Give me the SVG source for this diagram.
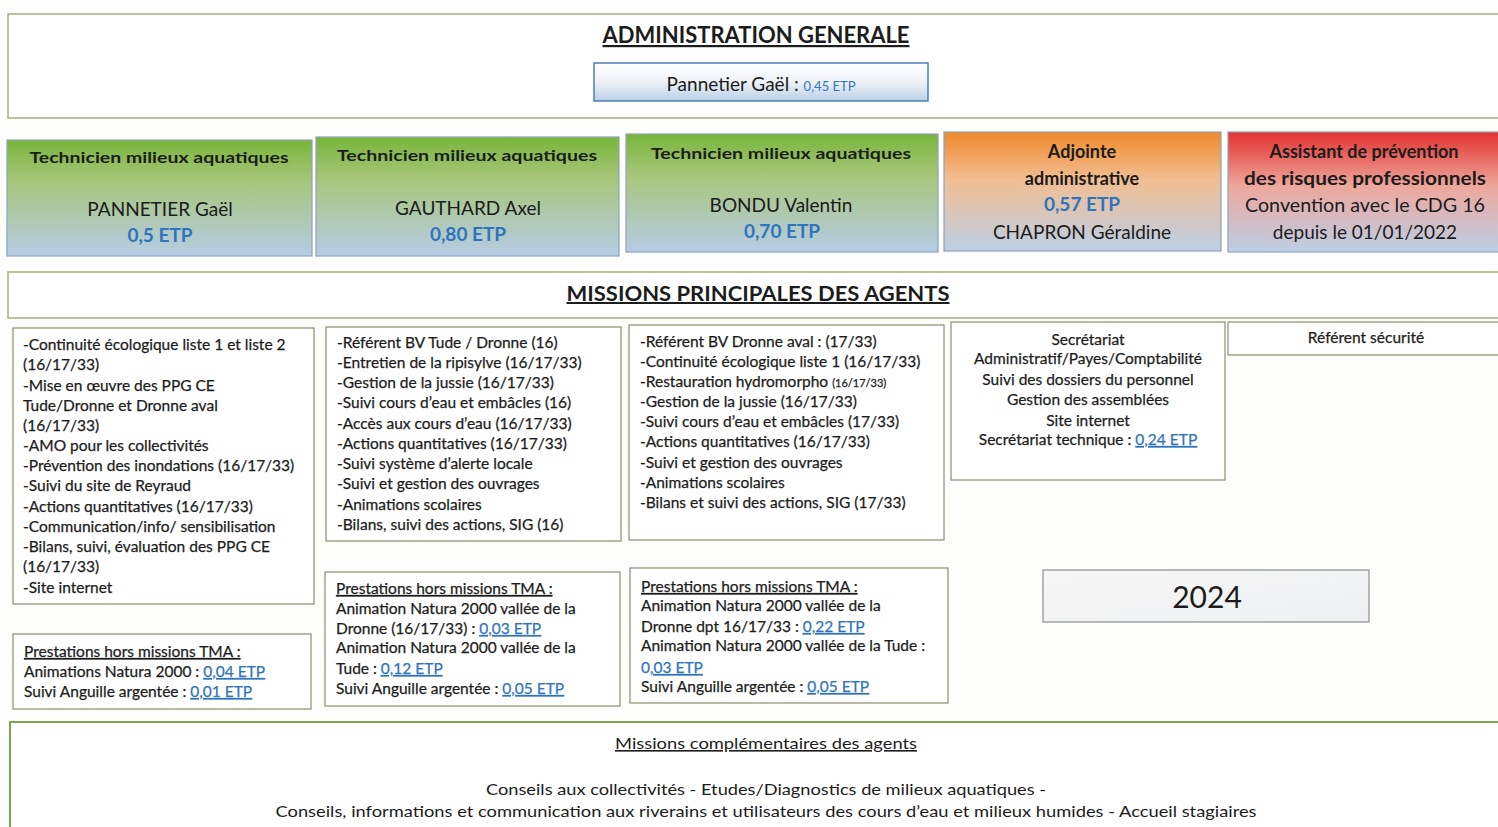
<svg xmlns="http://www.w3.org/2000/svg" width="1498" height="827" viewBox="0 0 1498 827">
<defs>
<linearGradient id="gGreen" x1="0" y1="0" x2="0" y2="1">
<stop offset="0" stop-color="#78b53a"/><stop offset="0.35" stop-color="#a7c67a"/><stop offset="1" stop-color="#b7cce6"/>
</linearGradient>
<linearGradient id="gOrange" x1="0" y1="0" x2="0" y2="1">
<stop offset="0" stop-color="#f0892a"/><stop offset="0.4" stop-color="#f2be92"/><stop offset="1" stop-color="#bccfe6"/>
</linearGradient>
<linearGradient id="gRed" x1="0" y1="0" x2="0" y2="1">
<stop offset="0" stop-color="#e3312f"/><stop offset="0.45" stop-color="#eea79c"/><stop offset="1" stop-color="#bccfe6"/>
</linearGradient>
<linearGradient id="gBlue" x1="0" y1="0" x2="0" y2="1">
<stop offset="0" stop-color="#ffffff"/><stop offset="0.5" stop-color="#eef2f7"/><stop offset="1" stop-color="#b9cfe6"/>
</linearGradient>
<linearGradient id="gGray" x1="0" y1="0" x2="1" y2="1">
<stop offset="0" stop-color="#f7f7f7"/><stop offset="1" stop-color="#eeeff1"/>
</linearGradient>
</defs>
<style>
.t{font-family:Lato,"Open Sans","Liberation Sans",sans-serif;fill:#1c1c1c}
.m{font-size:15.5px;stroke:#1c1c1c;stroke-width:0.25}
.c{text-anchor:middle}
.bd{font-weight:bold}
.bl{fill:#2f74bd}
.m .bl{stroke:#2f74bd}
.u{text-decoration:underline}
.frame{fill:#ffffff;stroke:#a9ae78;stroke-width:1.5}
.box{fill:#ffffff;stroke:#8c8e70;stroke-width:1.2}
.role{stroke:#8ea3ba;stroke-width:1.2}
</style>
<rect width="1498" height="827" fill="#fdfdfb"/>

<g id="admin">
<rect class="frame" x="8" y="14" width="1498" height="104"/>
<text class="t c bd u" x="756" y="43" font-size="22" textLength="307" lengthAdjust="spacingAndGlyphs">ADMINISTRATION GENERALE</text>
</g>
<g id="admin-person">
<rect x="594" y="63" width="334" height="38" fill="url(#gBlue)" stroke="#4d7db8" stroke-width="1.5"/>
<text class="t c" x="761" y="91" font-size="19">Pannetier Gaël : <tspan class="bl" font-size="13">0,45 ETP</tspan></text>
</g>

<g id="tech1">
<rect class="role" x="7" y="140" width="305" height="116" fill="url(#gGreen)"/>
<text class="t c bd" x="159" y="163" font-size="16" textLength="259" lengthAdjust="spacingAndGlyphs">Technicien milieux aquatiques</text>
<text class="t c" x="160" y="216" font-size="19">PANNETIER Gaël</text>
<text class="t c bd bl" x="160" y="242" font-size="19">0,5 ETP</text>
</g>
<g id="tech2">
<rect class="role" x="316" y="137" width="303" height="119" fill="url(#gGreen)"/>
<text class="t c bd" x="467" y="161" font-size="16" textLength="260" lengthAdjust="spacingAndGlyphs">Technicien milieux aquatiques</text>
<text class="t c" x="468" y="215" font-size="19">GAUTHARD Axel</text>
<text class="t c bd bl" x="468" y="241" font-size="19">0,80 ETP</text>
</g>
<g id="tech3">
<rect class="role" x="626" y="134" width="312" height="118" fill="url(#gGreen)"/>
<text class="t c bd" x="781" y="159" font-size="16" textLength="260" lengthAdjust="spacingAndGlyphs">Technicien milieux aquatiques</text>
<text class="t c" x="781" y="212" font-size="19">BONDU Valentin</text>
<text class="t c bd bl" x="782" y="238" font-size="19">0,70 ETP</text>
</g>
<g id="adjointe">
<rect class="role" x="944" y="132" width="277" height="119" fill="url(#gOrange)"/>
<text class="t c bd" x="1082" y="158" font-size="18">Adjointe</text>
<text class="t c bd" x="1082" y="185" font-size="18">administrative</text>
<text class="t c bd bl" x="1082" y="211" font-size="19">0,57 ETP</text>
<text class="t c" x="1082" y="239" font-size="19">CHAPRON Géraldine</text>
</g>
<g id="assistant">
<rect class="role" x="1228" y="132" width="275" height="120" fill="url(#gRed)"/>
<text class="t c bd" x="1364" y="158" font-size="18">Assistant de prévention</text>
<text class="t c bd" x="1365" y="185" font-size="18" textLength="242" lengthAdjust="spacingAndGlyphs">des risques professionnels</text>
<text class="t c" x="1365" y="212" font-size="19" textLength="240" lengthAdjust="spacingAndGlyphs">Convention avec le CDG 16</text>
<text class="t c" x="1365" y="239" font-size="19">depuis le 01/01/2022</text>
</g>

<g id="missions-header">
<rect class="frame" x="8" y="272" width="1498" height="46"/>
<text class="t c bd u" x="758" y="301" font-size="20" textLength="383" lengthAdjust="spacingAndGlyphs">MISSIONS PRINCIPALES DES AGENTS</text>
</g>

<g id="missions-pannetier">
<rect class="box" x="13" y="328" width="301" height="276"/>
<text class="t m" x="23" y="350">-Continuité écologique liste 1 et liste 2</text>
<text class="t m" x="23" y="370">(16/17/33)</text>
<text class="t m" x="23" y="391">-Mise en œuvre des PPG CE</text>
<text class="t m" x="23" y="411">Tude/Dronne et Dronne aval</text>
<text class="t m" x="23" y="431">(16/17/33)</text>
<text class="t m" x="23" y="451">-AMO pour les collectivités</text>
<text class="t m" x="23" y="471">-Prévention des inondations (16/17/33)</text>
<text class="t m" x="23" y="491">-Suivi du site de Reyraud</text>
<text class="t m" x="23" y="512">-Actions quantitatives (16/17/33)</text>
<text class="t m" x="23" y="532">-Communication/info/ sensibilisation</text>
<text class="t m" x="23" y="552">-Bilans, suivi, évaluation des PPG CE</text>
<text class="t m" x="23" y="572">(16/17/33)</text>
<text class="t m" x="23" y="593">-Site internet</text>
</g>
<g id="missions-gauthard">
<rect class="box" x="326" y="327" width="295" height="214"/>
<text class="t m" x="337" y="348">-Référent BV Tude / Dronne (16)</text>
<text class="t m" x="337" y="368">-Entretien de la ripisylve (16/17/33)</text>
<text class="t m" x="337" y="388">-Gestion de la jussie (16/17/33)</text>
<text class="t m" x="337" y="408">-Suivi cours d’eau et embâcles (16)</text>
<text class="t m" x="337" y="429">-Accès aux cours d’eau (16/17/33)</text>
<text class="t m" x="337" y="449">-Actions quantitatives (16/17/33)</text>
<text class="t m" x="337" y="469">-Suivi système d’alerte locale</text>
<text class="t m" x="337" y="489">-Suivi et gestion des ouvrages</text>
<text class="t m" x="337" y="510">-Animations scolaires</text>
<text class="t m" x="337" y="530">-Bilans, suivi des actions, SIG (16)</text>
</g>
<g id="missions-bondu">
<rect class="box" x="629" y="325" width="315" height="215"/>
<text class="t m" x="640" y="347">-Référent BV Dronne aval : (17/33)</text>
<text class="t m" x="640" y="367">-Continuité écologique  liste 1 (16/17/33)</text>
<text class="t m" x="640" y="387">-Restauration hydromorpho <tspan font-size="11">(16/17/33)</tspan></text>
<text class="t m" x="640" y="407">-Gestion de la jussie (16/17/33)</text>
<text class="t m" x="640" y="427">-Suivi cours d’eau et embâcles (17/33)</text>
<text class="t m" x="640" y="447">-Actions quantitatives (16/17/33)</text>
<text class="t m" x="640" y="468">-Suivi et gestion des ouvrages</text>
<text class="t m" x="640" y="488">-Animations scolaires</text>
<text class="t m" x="640" y="508">-Bilans et suivi des actions, SIG (17/33)</text>
</g>
<g id="missions-chapron">
<rect class="box" x="951" y="322" width="274" height="158"/>
<text class="t m c" x="1088" y="345">Secrétariat</text>
<text class="t m c" x="1088" y="364">Administratif/Payes/Comptabilité</text>
<text class="t m c" x="1088" y="385">Suivi des dossiers du personnel</text>
<text class="t m c" x="1088" y="405">Gestion des assemblées</text>
<text class="t m c" x="1088" y="426">Site internet</text>
<text class="t m c" x="1088" y="445">Secrétariat technique : <tspan class="bl u">0,24 ETP</tspan></text>
</g>
<g id="missions-securite">
<rect class="box" x="1228" y="322" width="275" height="33"/>
<text class="t m c" x="1366" y="343">Référent sécurité</text>
</g>

<g id="presta-pannetier">
<rect class="box" x="13" y="634" width="298" height="75"/>
<text class="t m u" x="24" y="657">Prestations hors missions TMA :</text>
<text class="t m" x="24" y="677">Animations Natura 2000 : <tspan class="bl u">0,04 ETP</tspan></text>
<text class="t m" x="24" y="697">Suivi Anguille argentée : <tspan class="bl u">0,01 ETP</tspan></text>
</g>
<g id="presta-gauthard">
<rect class="box" x="325" y="572" width="295" height="134"/>
<text class="t m u" x="336" y="594">Prestations hors missions TMA :</text>
<text class="t m" x="336" y="614">Animation Natura 2000 vallée de la</text>
<text class="t m" x="336" y="634">Dronne (16/17/33) : <tspan class="bl u">0,03 ETP</tspan></text>
<text class="t m" x="336" y="653">Animation Natura 2000 vallée de la</text>
<text class="t m" x="336" y="674">Tude : <tspan class="bl u">0,12 ETP</tspan></text>
<text class="t m" x="336" y="694">Suivi Anguille argentée : <tspan class="bl u">0,05 ETP</tspan></text>
</g>
<g id="presta-bondu">
<rect class="box" x="630" y="568" width="318" height="135"/>
<text class="t m u" x="641" y="592">Prestations hors missions TMA :</text>
<text class="t m" x="641" y="611">Animation Natura 2000 vallée de la</text>
<text class="t m" x="641" y="632">Dronne dpt 16/17/33 : <tspan class="bl u">0,22 ETP</tspan></text>
<text class="t m" x="641" y="651">Animation Natura 2000 vallée de la Tude :</text>
<text class="t m" x="641" y="673"><tspan class="bl">0</tspan><tspan class="bl u">,03 ETP</tspan></text>
<text class="t m" x="641" y="692">Suivi Anguille argentée : <tspan class="bl u">0,05 ETP</tspan></text>
</g>

<g id="year">
<rect x="1043" y="570" width="326" height="52" fill="url(#gGray)" stroke="#8c8e90" stroke-width="1.2"/>
<text class="t c" x="1207" y="608" font-size="30">2024</text>
</g>

<g id="missions-complementaires">
<rect x="10" y="722" width="1496" height="120" fill="#ffffff" stroke="#7ea24e" stroke-width="2"/>
<text class="t c u" x="766" y="749" font-size="16" textLength="302" lengthAdjust="spacingAndGlyphs">Missions complémentaires des agents</text>
<text class="t c" x="766" y="795" font-size="16" textLength="560" lengthAdjust="spacingAndGlyphs">Conseils aux collectivités -  Etudes/Diagnostics de milieux aquatiques -</text>
<text class="t c" x="766" y="817" font-size="16" textLength="981" lengthAdjust="spacingAndGlyphs">Conseils, informations et communication aux riverains et utilisateurs des cours d’eau et milieux humides - Accueil stagiaires</text>
</g>

<g id="connectors"></g>
</svg>
